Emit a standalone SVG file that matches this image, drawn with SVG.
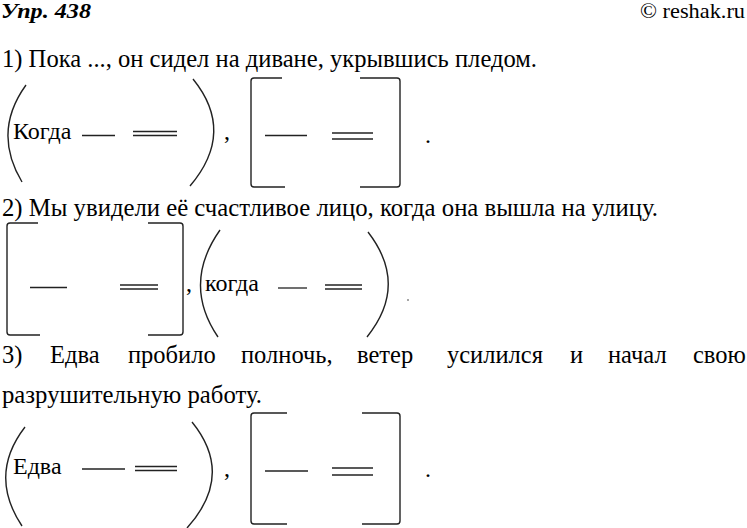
<svg xmlns="http://www.w3.org/2000/svg" width="747" height="528" viewBox="0 0 747 528">
<style>
.ln{stroke:#222;stroke-width:1.3;fill:none}
.br{stroke:#222;stroke-width:1.4;fill:none}
</style>
<rect width="747" height="528" fill="#fff"/>
<text x="1" y="18" font-family="Liberation Serif" font-size="21" font-weight="bold" font-style="italic" textLength="90" lengthAdjust="spacingAndGlyphs">Упр. 438</text>
<text x="640" y="18" font-family="Liberation Serif" font-size="21" textLength="105" lengthAdjust="spacingAndGlyphs">© reshak.ru</text>
<text x="2" y="67" font-family="Liberation Serif" font-size="24.5" textLength="535" lengthAdjust="spacingAndGlyphs">1) Пока ..., он сидел на диване, укрывшись пледом.</text>
<g id="schema1">
  <g id="s1-clause-sub">
    <path class="br" d="M26 85 Q-8 132 22 182"/>
    <path class="br" d="M193 79 Q236 132 190 186"/>
    <text x="13" y="139" font-family="Liberation Serif" font-size="24">Когда</text>
    <line class="ln" x1="82" y1="135.5" x2="115" y2="135.5"/>
    <line class="ln" x1="133" y1="131.5" x2="177" y2="131.5"/>
    <line class="ln" x1="133" y1="135.5" x2="177" y2="135.5"/>
  </g>
  <text x="224" y="139" font-family="Liberation Serif" font-size="24">,</text>
  <g id="s1-clause-main">
    <path class="br" d="M282 78 L254 78 Q251 78 251 81 L251 184 Q251 187 254 187 L285 187"/>
    <path class="br" d="M360 78 L397 78 Q400 78 400 81 L400 184 Q400 187 397 187 L360 187"/>
    <line class="ln" x1="265" y1="135.5" x2="307" y2="135.5"/>
    <line class="ln" x1="332" y1="133" x2="373" y2="133"/>
    <line class="ln" x1="332" y1="139" x2="373" y2="139"/>
  </g>
  <text x="425" y="143" font-family="Liberation Serif" font-size="24">.</text>
</g>
<text x="2" y="216" font-family="Liberation Serif" font-size="24.5" textLength="656" lengthAdjust="spacingAndGlyphs">2) Мы увидели её счастливое лицо, когда она вышла на улицу.</text>
<g id="schema2">
  <g id="s2-clause-main">
    <path class="br" d="M38 223 L10 223 Q7 223 7 226 L7 332 Q7 335 10 335 L40 335"/>
    <path class="br" d="M148 223 L180 223 Q183 223 183 226 L183 332 Q183 335 180 335 L148 335"/>
    <line class="ln" x1="30" y1="287.5" x2="67" y2="287.5"/>
    <line class="ln" x1="120" y1="285" x2="158" y2="285"/>
    <line class="ln" x1="120" y1="289" x2="158" y2="289"/>
  </g>
  <text x="186" y="291" font-family="Liberation Serif" font-size="24">,</text>
  <g id="s2-clause-sub">
    <path class="br" d="M220 230 Q182 284 218 337"/>
    <path class="br" d="M368 232 Q409 285 367 337"/>
    <text x="205" y="291" font-family="Liberation Serif" font-size="24">когда</text>
    <line class="ln" x1="278" y1="288" x2="307" y2="288"/>
    <line class="ln" x1="325" y1="285" x2="362" y2="285"/>
    <line class="ln" x1="325" y1="289" x2="362" y2="289"/>
  </g>
  <circle cx="408" cy="300" r="1" fill="#888"/>
</g>
<g id="line3">
  <text x="2" y="363" font-family="Liberation Serif" font-size="24.5">3)</text>
  <text x="50" y="363" font-family="Liberation Serif" font-size="24.5">Едва</text>
  <text x="128" y="363" font-family="Liberation Serif" font-size="24.5">пробило</text>
  <text x="241" y="363" font-family="Liberation Serif" font-size="24.5">полночь,</text>
  <text x="357" y="363" font-family="Liberation Serif" font-size="24.5">ветер</text>
  <text x="447" y="363" font-family="Liberation Serif" font-size="24.5">усилился</text>
  <text x="570" y="363" font-family="Liberation Serif" font-size="24.5">и</text>
  <text x="608" y="363" font-family="Liberation Serif" font-size="24.5">начал</text>
  <text x="693" y="363" font-family="Liberation Serif" font-size="24.5">свою</text>
</g>
<text x="2" y="403" font-family="Liberation Serif" font-size="24.5" textLength="260" lengthAdjust="spacingAndGlyphs">разрушительную работу.</text>
<g id="schema3">
  <g id="s3-clause-sub">
    <path class="br" d="M25 427 Q-12 475 22 526"/>
    <path class="br" d="M192 422 Q235 475 187 528"/>
    <text x="13" y="474" font-family="Liberation Serif" font-size="24">Едва</text>
    <line class="ln" x1="82" y1="469" x2="125" y2="469"/>
    <line class="ln" x1="135" y1="466.5" x2="177" y2="466.5"/>
    <line class="ln" x1="135" y1="470.5" x2="177" y2="470.5"/>
  </g>
  <text x="224" y="476" font-family="Liberation Serif" font-size="24">,</text>
  <g id="s3-clause-main">
    <path class="br" d="M287 413 L254 413 Q251 413 251 416 L251 521 Q251 524 254 524 L287 524"/>
    <path class="br" d="M362 413 L397 413 Q400 413 400 416 L400 521 Q400 524 397 524 L362 524"/>
    <line class="ln" x1="265" y1="471" x2="308" y2="471"/>
    <line class="ln" x1="332" y1="468" x2="373" y2="468"/>
    <line class="ln" x1="332" y1="475" x2="373" y2="475"/>
  </g>
  <text x="425" y="477" font-family="Liberation Serif" font-size="24">.</text>
</g>
</svg>
